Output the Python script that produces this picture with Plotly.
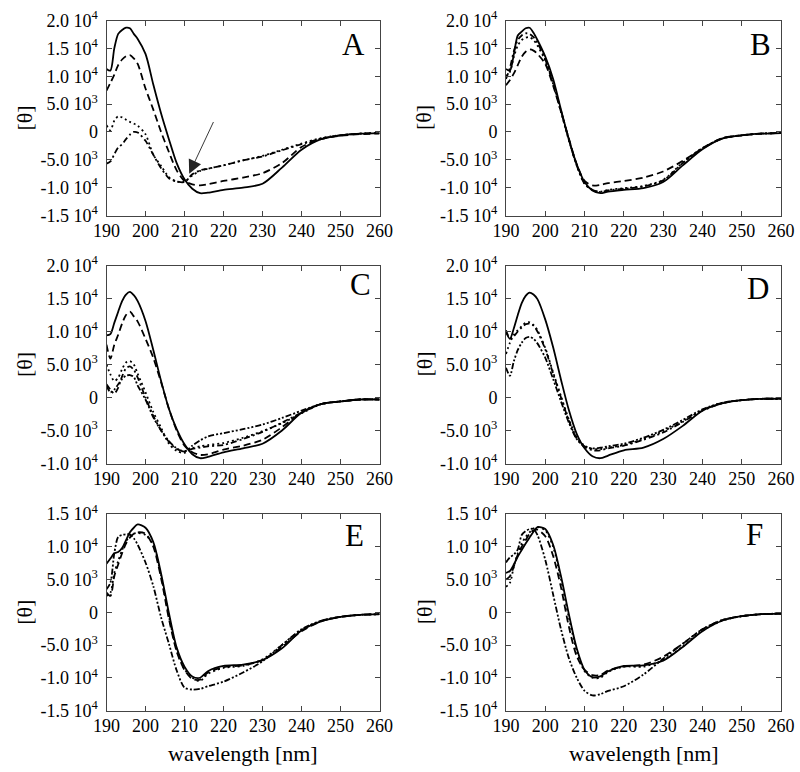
import plotly.graph_objects as go

# ---------------- data (values in units of 1e3) ----------------
WL = [190, 191, 192, 193, 194, 195, 196, 197, 198, 200, 202, 204, 206, 208,
      210, 212, 214, 216, 220, 225, 230, 235, 240, 245, 250, 255, 260]

A_solid = [11.3, 11.0, 15.0, 17.6, 18.3, 18.7, 18.6, 17.6, 16.7, 14.0, 8.5, 3.3, -1.3, -5.6,
           -8.5, -10.2, -11.0, -10.9, -10.4, -10.0, -9.3, -6.4, -3.2, -1.3, -0.6, -0.3, -0.2]
A_dash = [7.4, 8.8, 10.3, 12.0, 13.0, 13.6, 13.8, 13.2, 12.2, 7.8, 4.0, 0.0, -3.6, -6.9,
          -8.8, -9.4, -9.6, -9.4, -8.8, -8.2, -7.4, -5.6, -2.7, -1.3, -0.7, -0.4, -0.3]
A_dot = [1.2, 0.3, 2.0, 2.8, 2.6, 2.2, 1.8, 1.5, 1.1, -0.4, -4.1, -6.1, -8.1, -8.9,
         -8.9, -7.8, -7.0, -6.6, -6.0, -5.1, -4.3, -3.2, -2.1, -1.1, -0.6, -0.3, -0.2]
A_dashdot = [-5.7, -5.3, -4.0, -2.8, -2.2, -1.3, -0.5, 0.0, -0.1, -1.6, -4.1, -6.5, -8.3, -8.9,
             -9.0, -7.6, -6.9, -6.6, -6.0, -5.1, -4.4, -3.3, -2.2, -1.2, -0.6, -0.3, -0.2]

B_solid = [11.3, 11.0, 14.0, 17.3, 18.0, 18.6, 18.7, 17.8, 16.5, 13.5, 9.5, 4.0, -1.3, -5.8,
           -9.0, -10.5, -11.0, -10.7, -10.4, -10.1, -9.0, -6.0, -3.1, -1.2, -0.6, -0.3, -0.2]
B_dash = [8.4, 9.3, 10.5, 12.0, 13.5, 14.4, 14.8, 14.6, 14.0, 12.2, 8.3, 3.6, -1.2, -5.8,
          -8.8, -9.6, -9.5, -9.2, -8.8, -8.2, -7.1, -5.2, -3.0, -1.1, -0.6, -0.3, -0.2]
B_dot = [10.0, 10.8, 13.5, 15.5, 16.5, 16.9, 17.0, 16.5, 15.5, 12.8, 8.6, 3.6, -1.5, -6.0,
         -9.3, -10.4, -10.7, -10.4, -10.1, -9.7, -8.6, -5.5, -2.9, -1.2, -0.6, -0.3, -0.2]
B_dashdot = [9.5, 11.5, 14.5, 16.5, 17.3, 17.7, 17.6, 17.0, 16.0, 13.0, 8.8, 3.8, -1.4, -6.0,
             -9.3, -10.4, -10.8, -10.5, -10.2, -9.8, -8.7, -5.6, -2.9, -1.2, -0.6, -0.3, -0.2]

C_solid = [9.4, 9.6, 11.3, 13.0, 14.6, 15.6, 16.0, 15.5, 14.6, 11.6, 7.2, 2.5, -1.7, -4.8,
           -7.1, -8.6, -9.2, -9.0, -8.3, -7.7, -7.0, -5.0, -2.3, -1.0, -0.6, -0.3, -0.3]
C_dash = [8.0, 5.9, 8.0, 9.5, 11.2, 12.5, 13.0, 12.3, 11.5, 8.9, 6.0, 2.3, -1.7, -5.0,
          -7.3, -8.3, -8.7, -8.6, -7.9, -7.3, -6.4, -4.5, -2.3, -1.0, -0.6, -0.3, -0.3]
C_dot = [5.0, 3.5, 2.5, 3.0, 4.3, 5.3, 5.5, 5.0, 3.6, 0.8, -2.2, -4.6, -7.0, -8.1,
         -8.4, -7.7, -7.4, -7.2, -6.9, -6.1, -5.1, -3.9, -2.4, -1.0, -0.6, -0.3, -0.3]
C_dashdot = [2.0, 1.2, 0.6, 1.5, 3.2, 4.4, 4.7, 4.2, 3.0, 0.0, -2.8, -5.0, -6.7, -7.8,
             -8.1, -7.8, -7.6, -7.4, -7.2, -6.3, -5.2, -3.8, -2.3, -1.0, -0.6, -0.3, -0.3]
C_dashdotdot = [1.8, 0.8, 1.2, 2.0, 2.8, 3.3, 3.4, 3.1, 1.8, -0.3, -3.0, -5.0, -6.6, -7.7,
                -8.2, -7.3, -6.5, -5.9, -5.4, -4.8, -4.1, -3.1, -2.0, -1.0, -0.6, -0.3, -0.3]

D_solid = [9.9, 8.9, 10.5, 12.5, 14.3, 15.4, 15.9, 15.6, 14.9, 11.8, 7.6, 2.7, -1.9, -5.5,
           -7.7, -8.9, -9.2, -8.8, -8.0, -7.6, -6.3, -4.3, -2.0, -0.9, -0.4, -0.2, -0.2]
D_dot = [6.6, 8.3, 9.5, 10.2, 10.8, 11.3, 11.4, 11.0, 10.2, 7.5, 3.8, 0.2, -3.3, -6.0,
         -7.3, -7.8, -7.8, -7.6, -7.2, -6.3, -5.1, -3.6, -1.9, -0.8, -0.4, -0.2, -0.2]
D_dashdot = [10.2, 9.0, 9.3, 10.0, 10.6, 11.1, 11.2, 10.9, 10.0, 7.3, 3.6, 0.0, -3.5, -6.2,
             -7.5, -8.0, -8.0, -7.7, -7.3, -6.4, -5.3, -3.7, -2.0, -0.9, -0.4, -0.2, -0.2]
D_dashdotdot = [4.5, 3.3, 5.5, 7.2, 8.3, 9.0, 9.2, 8.9, 8.2, 6.0, 2.8, -0.6, -3.8, -6.3,
                -7.4, -7.7, -7.6, -7.4, -7.0, -6.1, -4.9, -3.4, -1.8, -0.8, -0.4, -0.2, -0.2]

E_solid = [7.4, 8.2, 9.0, 9.2, 9.8, 11.0, 12.2, 12.9, 13.4, 12.9, 10.7, 5.9, -0.1, -5.4,
           -8.3, -9.8, -10.0, -9.0, -8.2, -8.0, -7.3, -5.5, -2.8, -1.4, -0.7, -0.4, -0.3]
E_dash = [3.0, 2.5, 5.5, 7.3, 9.0, 10.5, 11.4, 12.0, 12.2, 12.0, 10.0, 5.2, -1.0, -6.0,
          -8.8, -10.2, -10.3, -9.2, -8.4, -8.1, -7.3, -5.3, -2.9, -1.4, -0.7, -0.4, -0.3]
E_dot = [2.5, 3.0, 6.0, 7.8, 9.5, 10.8, 11.6, 12.0, 12.1, 11.8, 10.2, 5.6, -0.6, -5.8,
         -8.7, -10.0, -10.5, -9.4, -8.5, -8.2, -7.2, -5.0, -2.7, -1.3, -0.7, -0.4, -0.3]
E_dashdotdot = [3.5, 4.5, 9.0, 11.5, 11.8, 11.9, 11.9, 11.3, 10.3, 7.6, 4.0, -0.8, -4.8, -8.9,
                -11.5, -11.8, -11.7, -11.3, -10.6, -9.2, -7.5, -5.0, -2.6, -1.3, -0.7, -0.4, -0.3]

F_solid = [6.0, 6.3, 7.3, 8.5, 9.5, 10.5, 11.4, 12.3, 13.0, 12.7, 10.3, 5.5, -0.3, -5.5,
           -8.8, -9.9, -9.8, -9.0, -8.2, -8.1, -7.4, -5.3, -2.9, -1.3, -0.6, -0.3, -0.2]
F_dash = [5.0, 5.5, 7.0, 8.8, 10.0, 11.0, 12.0, 12.5, 12.6, 11.6, 8.6, 3.8, -2.2, -6.7,
          -8.8, -9.6, -9.6, -8.9, -8.3, -8.0, -6.8, -4.8, -2.6, -1.2, -0.6, -0.3, -0.2]
F_dot = [3.9, 4.5, 7.0, 9.0, 10.5, 11.5, 12.2, 12.8, 13.0, 12.5, 10.0, 5.0, -0.8, -5.9,
         -9.0, -10.0, -10.0, -9.1, -8.3, -8.3, -7.3, -5.2, -2.8, -1.3, -0.6, -0.3, -0.2]
F_dashdotdot = [7.6, 8.4, 8.8, 9.6, 11.8, 12.4, 12.7, 12.7, 11.8, 8.0, 2.7, -2.6, -7.0, -10.0,
                -12.0, -12.7, -12.5, -12.0, -11.3, -9.5, -7.1, -4.8, -2.6, -1.2, -0.6, -0.3, -0.2]

X_TICKS = [190, 200, 210, 220, 230, 240, 250, 260]
Y_TICKVALS = [20000, 15000, 10000, 5000, 0, -5000, -10000, -15000]
Y_TICKTEXT = ["2.0 10<sup>4</sup>", "1.5 10<sup>4</sup>", "1.0 10<sup>4</sup>",
              "5.0 10<sup>3</sup>", "0", "-5.0 10<sup>3</sup>",
              "-1.0 10<sup>4</sup>", "-1.5 10<sup>4</sup>"]
PANEL_LABELS = ["A", "B", "C", "D", "E", "F"]
Y_RANGES = [[-15000, 20000], [-15000, 20000], [-10000, 20000],
            [-10000, 20000], [-15000, 15000], [-15000, 15000]]

# ---------------- styling ----------------
FONT = "Liberation Serif, Times New Roman, serif"
DASH = {
    "solid": "solid",
    "dash": "7px,4px",
    "dot": "2px,3px",
    "dashdot": "6px,3px,2px,3px",
    "dashdotdot": "6px,2px,2px,2px,2px,2px",
}

panels = [
    [("solid", A_solid), ("dash", A_dash), ("dot", A_dot), ("dashdot", A_dashdot)],
    [("solid", B_solid), ("dash", B_dash), ("dot", B_dot), ("dashdot", B_dashdot)],
    [("solid", C_solid), ("dash", C_dash), ("dot", C_dot), ("dashdot", C_dashdot),
     ("dashdotdot", C_dashdotdot)],
    [("solid", D_solid), ("dot", D_dot), ("dashdot", D_dashdot), ("dashdotdot", D_dashdotdot)],
    [("solid", E_solid), ("dash", E_dash), ("dot", E_dot), ("dashdotdot", E_dashdotdot)],
    [("solid", F_solid), ("dash", F_dash), ("dot", F_dot), ("dashdotdot", F_dashdotdot)],
]

W, H = 800, 772
col_px = [(106.5, 379.5), (506.0, 781.0)]
row_px = [(20.5, 215.5), (265.5, 463.5), (514.0, 710.5)]
label_pos = [(0.906, 0.875), (0.924, 0.878), (0.929, 0.905),
             (0.916, 0.885), (0.91, 0.89), (0.905, 0.897)]

fig = go.Figure()
layout = dict(width=W, height=H, margin=dict(l=0, r=0, t=0, b=0, pad=0, autoexpand=False),
              paper_bgcolor="white", plot_bgcolor="white", showlegend=False,
              font=dict(family=FONT, color="black", size=18))
annotations = []

for i, series in enumerate(panels):
    r, c = divmod(i, 2)
    n = i + 1
    xs = "" if n == 1 else str(n)
    x0, x1 = col_px[c]
    y0, y1 = row_px[r]
    ax_common = dict(showline=True, linecolor="#444", linewidth=1, mirror="ticks",
                     ticks="inside", ticklen=5, tickcolor="#444", showgrid=False,
                     zeroline=False, automargin=False,
                     tickfont=dict(family=FONT, size=18, color="black"))
    layout["xaxis" + xs] = dict(domain=[x0 / W, x1 / W], range=[190, 260],
                                tickvals=X_TICKS, anchor="y" + xs,
                                ticklabelstandoff=-1, **ax_common)
    layout["yaxis" + xs] = dict(domain=[1 - y1 / H, 1 - y0 / H], range=Y_RANGES[i],
                                tickvals=Y_TICKVALS, ticktext=Y_TICKTEXT,
                                anchor="x" + xs, ticklabelstandoff=4, **ax_common)
    for style, vals in series:
        fig.add_trace(go.Scatter(
            x=WL, y=[v * 1000 for v in vals], mode="lines",
            line=dict(color="black", width=1.8, dash=DASH[style],
                      shape="spline", smoothing=0.8),
            xaxis="x" + xs, yaxis="y" + xs, hoverinfo="skip"))
    lx, ly = label_pos[i]
    annotations.append(dict(text=PANEL_LABELS[i], xref="x%s domain" % xs,
                            yref="y%s domain" % xs, x=lx, y=ly, showarrow=False,
                            xanchor="center", yanchor="middle",
                            font=dict(family=FONT, size=31, color="black")))
    # y-axis title
    annotations.append(dict(text="[θ]", xref="paper", yref="paper",
                            x=(x0 - 82) / W, y=1 - ((y0 + y1) / 2) / H,
                            xanchor="center", yanchor="middle",
                            textangle=-90, showarrow=False,
                            font=dict(family=FONT, size=22, color="black")))

# x-axis titles for bottom row
for c in range(2):
    x0, x1 = col_px[c]
    annotations.append(dict(text="wavelength [nm]", xref="paper", yref="paper",
                            x=((x0 + x1) / 2) / W, y=1 - 753 / H, showarrow=False,
                            xanchor="center", yanchor="middle",
                            font=dict(family=FONT, size=22, color="black")))

# arrow in panel A
annotations.append(dict(x=211.2, y=-7500, ax=217.6, ay=2050, xref="x", yref="y",
                        axref="x", ayref="y", showarrow=True, arrowhead=2,
                        arrowsize=3, arrowwidth=0.9, arrowcolor="#222", text=""))

layout["annotations"] = annotations
fig.update_layout(**layout)
fig.write_html("out.html", config={"displayModeBar": False},
               post_script="document.body.style.margin='0';")
